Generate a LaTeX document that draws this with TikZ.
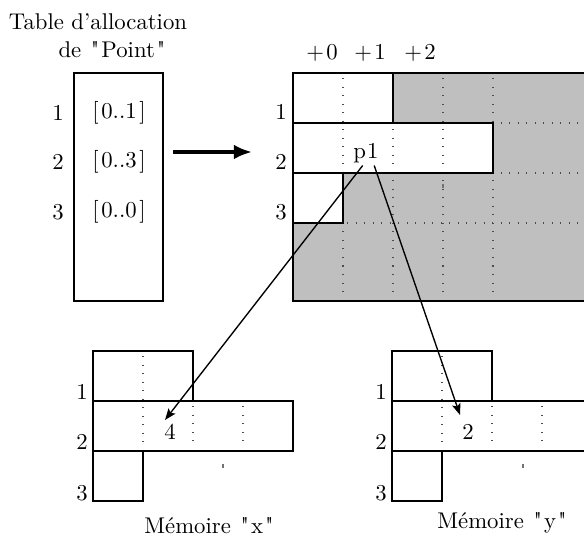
\documentclass[tikz,border=0pt]{standalone}
\usetikzlibrary{arrows.meta}
\definecolor{bggray}{gray}{0.75}
\font\lmnomap="[lmroman10-regular]" at 10pt
\newcommand{\sq}{{\kern0.9pt\lmnomap"\kern0.9pt}}
\tikzset{
  box/.style={line width=0.85pt, draw=black},
  griddot/.style={line width=0.45pt, draw=black!70, dash pattern=on 0.45pt off 3.3pt},
  tick/.style={line width=0.5pt, draw=black!55},
  lbl/.style={inner sep=0pt, anchor=center},
  ptr/.style={line width=0.6pt, -{Stealth[length=5pt,width=3.8pt,inset=1pt]}},
  bigarrow/.style={line width=1.5pt, -{Latex[length=8pt,width=6.5pt]}},
}
\begin{document}
\begin{tikzpicture}[x=0.44pt,y=-0.44pt]
\clip (0,0) rectangle (584,540);
\fill[white] (0,0) rectangle (584,540);

% ---- title and allocation table ----
\node[lbl] (title1) at (98,22) {Table d'allocation};
\node[lbl] (title2) at (113,50) {de \sq Point\sq};
\draw[box] (74,73) rectangle (163,301);
\node[lbl] (tl1) at (58,113) {1};
\node[lbl] (tl2) at (58,162) {2};
\node[lbl] (tl3) at (58,212) {3};
\node[lbl] (tv1) at (119,113) {[\kern1.2pt0..1\kern1.2pt]};
\node[lbl] (tv2) at (119,162) {[\kern1.2pt0..3\kern1.2pt]};
\node[lbl] (tv3) at (119,212) {[\kern1.2pt0..0\kern1.2pt]};
\coordinate (arrS) at (173,152);
\coordinate (arrE) at (252,152);
\draw[bigarrow] (arrS) -- (arrE);

% ---- main memory grid ----
\fill[bggray] (293,73) rectangle (640,301);
\fill[white] (293,73) rectangle (393,123);
\fill[white] (293,123) rectangle (493,173);
\fill[white] (293,173) rectangle (343,223);
\foreach \x in {343,393,443,493} \draw[griddot] (\x,78) -- (\x,298);
\foreach \y in {123,173,223} \draw[griddot] (296,\y) -- (640,\y);
\draw[tick] (443,184) -- (443,188);
\draw[box] (293,73) rectangle (640,301);
\draw[box] (293,73) rectangle (393,123);
\draw[box] (293,123) rectangle (493,173);
\draw[box] (293,173) rectangle (343,223);
\node[lbl] (h0) at (322,53) {$+\kern1pt0$};
\node[lbl] (h1) at (370,53) {$+\kern1pt1$};
\node[lbl] (h2) at (420,53) {$+\kern1pt2$};
\node[lbl] (m1) at (281,112) {1};
\node[lbl] (m2) at (281,162) {2};
\node[lbl] (m3) at (281,212) {3};
\node[inner sep=1pt] (p1) at (366,153) {p\kern0.5pt1};

% ---- memory x ----
\draw[griddot] (143,356) -- (143,447);
\draw[griddot] (193,406) -- (193,447);
\draw[griddot] (243,406) -- (243,447);
\draw[tick] (223,464) -- (223,468);
\draw[box] (93,351) rectangle (193,401);
\draw[box] (93,401) rectangle (293,451);
\draw[box] (93,451) rectangle (143,501);
\node[lbl] (x1) at (82,392) {1};
\node[lbl] (x2) at (82,442) {2};
\node[lbl] (x3) at (82,493) {3};
\node[lbl] (v4) at (170,432) {4};
\node[lbl] (memx) at (210,526) {Mémoire \sq x\sq};

% ---- memory y ----
\draw[griddot] (442,356) -- (442,447);
\draw[griddot] (492,406) -- (492,447);
\draw[griddot] (542,406) -- (542,447);
\draw[tick] (523,464) -- (523,468);
\draw[box] (392,351) rectangle (492,401);
\draw[box] (392,401) rectangle (640,451);
\draw[box] (392,451) rectangle (442,501);
\node[lbl] (y1) at (381,392) {1};
\node[lbl] (y2) at (381,442) {2};
\node[lbl] (y3) at (381,493) {3};
\node[lbl] (v2) at (468,432) {2};
\node[lbl] (memy) at (503,523) {Mémoire \sq y\sq};

% ---- pointers ----
\coordinate (t4) at (165,420);
\coordinate (t2) at (460,415);
\draw[ptr] ([xshift=-1.45pt]p1.south) -- (t4);
\draw[ptr] ([xshift=3.6pt]p1.south) -- (t2);
\end{tikzpicture}
\end{document}
